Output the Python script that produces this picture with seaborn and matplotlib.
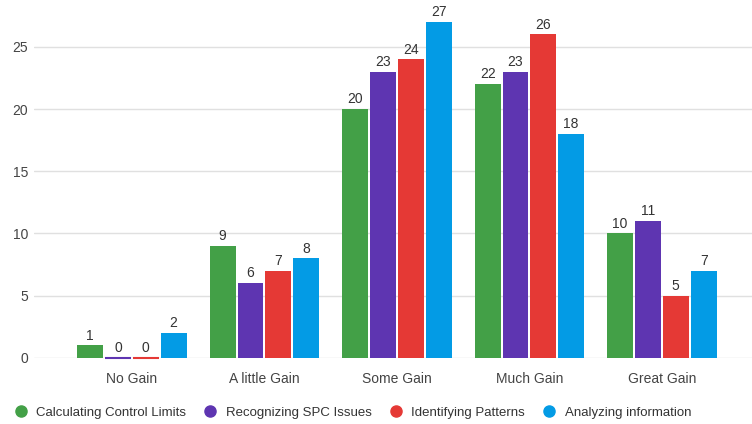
import matplotlib.pyplot as plt
import pandas as pd
import seaborn as sns
from matplotlib.lines import Line2D

categories = ['No Gain', 'A little Gain', 'Some Gain', 'Much Gain', 'Great Gain']
series = ['Calculating Control Limits', 'Recognizing SPC Issues',
          'Identifying Patterns', 'Analyzing information']
control_limits = [1, 9, 20, 22, 10]
spc_issues = [0, 6, 23, 23, 11]
patterns = [0, 7, 24, 26, 5]
analyzing = [2, 8, 27, 18, 7]
colors = ['#43a047', '#5e35b1', '#e53935', '#039be5']

# Build a long table for seaborn
rows = []
for name, vals in zip(series, [control_limits, spc_issues, patterns, analyzing]):
    for cat, v in zip(categories, vals):
        rows.append({'category': cat, 'series': name, 'value': v})
df = pd.DataFrame(rows)

sns.set_style('white')
plt.rcParams['font.family'] = ['Liberation Sans', 'DejaVu Sans']
fig = plt.figure(figsize=(7.52, 4.24), dpi=100)
ax = fig.add_axes([0.045, 0.156, 0.955, 0.795])

sns.barplot(data=df, x='category', y='value', hue='series', order=categories,
            hue_order=series, palette=colors, width=0.84, gap=0.07,
            saturation=1, legend=False, ax=ax, zorder=3)

# zero bars still show as a thin coloured line
for patch in ax.patches:
    patch.set_linewidth(0)
    if patch.get_height() == 0:
        patch.set_edgecolor(patch.get_facecolor())
        patch.set_linewidth(1.5)
        patch.set_clip_on(False)

for container in ax.containers:
    ax.bar_label(container, padding=2, fontsize=10, color='#333333')

ax.set_xlim(-0.74, 4.68)
ax.set_ylim(0, 27.1)
ax.set_yticks([0, 5, 10, 15, 20, 25])
ax.yaxis.grid(True, color='#e0e0e0', linewidth=1, zorder=0)
ax.set_axisbelow(True)
for s in ax.spines.values():
    s.set_visible(False)
ax.set_xlabel('')
ax.set_ylabel('')
ax.tick_params(axis='both', length=0, labelsize=10, colors='#444444')
ax.tick_params(axis='x', pad=10)
ax.tick_params(axis='y', pad=4)

handles = [Line2D([], [], marker='o', linestyle='', markersize=8,
                  markerfacecolor=c, markeredgecolor=c) for c in colors]
fig.legend(handles, series, loc='lower left', bbox_to_anchor=(-0.006, -0.016),
           ncol=4, frameon=False, fontsize=9.5, handletextpad=0.2,
           columnspacing=0.8, labelcolor='#333333')

fig.savefig('out.png', dpi=100)
